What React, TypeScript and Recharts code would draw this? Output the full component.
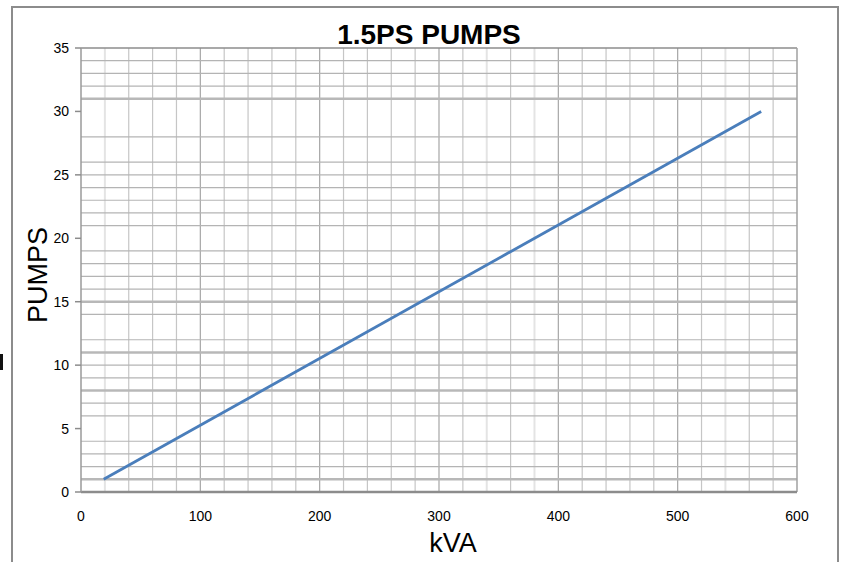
import React from 'react';
import { LineChart, Line, XAxis, YAxis, ReferenceLine, Label } from 'recharts';

// Data: the series runs straight from (19 kVA, 1 pump) to (570 kVA, 30 pumps)
const kvaValues = [19, 570];
const pumpValues = [1, 30];

const xTicks = [0, 100, 200, 300, 400, 500, 600];
const yTicks = [0, 5, 10, 15, 20, 25, 30, 35];

// Graph-paper grid lines as seen in the picture
const xGridValues = [20, 40, 60, 80, 100, 120, 140, 160, 180, 200, 220, 240, 260, 280, 300, 320, 340, 360, 380, 400, 420, 440, 460, 480, 500, 520, 540, 560, 580];
const xGridMajor = [100, 200, 300, 400, 500];
const xGridLight = [20, 340, 380, 540];
const yGridValues = [1, 2, 3, 4, 6, 7, 8, 9, 10, 11, 12, 14, 15, 16, 17, 18, 19, 21, 22, 23, 24, 25, 26, 28, 31, 32, 33, 34];
const yGridHeavy = [1, 8, 11, 15, 31];

const title = '1.5PS PUMPS';
const xLabel = 'kVA';
const yLabel = 'PUMPS';

const data = kvaValues.map((k, i) => ({ kva: k, pumps: pumpValues[i] }));

const FONT = '"Liberation Sans", Arial, sans-serif';

export default function App() {
  return (
    <div style={{ position: 'absolute', left: 0, top: 0, width: 846, height: 562, background: '#fff', overflow: 'hidden', fontFamily: FONT }}>
      {/* outer frame */}
      <div style={{ position: 'absolute', left: 11, top: 6, width: 824, height: 620, borderLeft: '2px solid #8c8c8c', borderTop: '2px solid #8c8c8c', borderRight: '2px solid #8c8c8c' }} />
      <div style={{ position: 'absolute', left: 0, top: 354, width: 3, height: 16, background: '#111' }} />
      <div style={{ position: 'absolute', left: 0, top: 19, width: 858, textAlign: 'center', fontWeight: 'bold', fontSize: 28, color: '#000', fontFamily: FONT }}>{title}</div>
      <div style={{ position: 'absolute', left: 0, top: 0 }}>
        <LineChart width={846} height={562} data={data} margin={{ top: 48, right: 49, bottom: 40, left: 20 }}>
          {xGridValues.map((v) => (
            <ReferenceLine
              key={'x' + v}
              x={v}
              stroke={xGridMajor.includes(v) ? '#a6a6a6' : xGridLight.includes(v) ? '#e4e4e4' : '#c6c6c6'}
              strokeWidth={xGridLight.includes(v) ? 2 : 1.2}
            />
          ))}
          {yGridValues.map((v) => (
            <ReferenceLine
              key={'y' + v}
              y={v}
              stroke={yGridHeavy.includes(v) ? '#b8b8b8' : '#b4b4b4'}
              strokeWidth={yGridHeavy.includes(v) ? 2.5 : 1.2}
            />
          ))}
          <ReferenceLine y={35} stroke="#8c8c8c" strokeWidth={1.5} />
          <ReferenceLine x={600} stroke="#a0a0a0" strokeWidth={1.5} />
          <XAxis
            dataKey="kva"
            type="number"
            domain={[0, 600]}
            ticks={xTicks}
            interval={0}
            height={30}
            tickLine={false}
            tickSize={8}
            tickMargin={11}
            axisLine={{ stroke: '#8c8c8c', strokeWidth: 2.5 }}
            tick={{ fill: '#000', fontSize: 14, fontFamily: FONT }}
          >
            <Label
              content={() => (
                <text x={453} y={552} textAnchor="middle" fontSize={27} fontFamily={FONT} fill="#000">{xLabel}</text>
              )}
            />
          </XAxis>
          <YAxis
            dataKey="pumps"
            type="number"
            domain={[0, 35]}
            ticks={yTicks}
            interval={0}
            width={61}
            tickSize={6}
            tickMargin={6}
            tickLine={{ stroke: '#8c8c8c', strokeWidth: 1.5 }}
            axisLine={{ stroke: '#9a9a9a', strokeWidth: 1.5 }}
            tick={{ fill: '#000', fontSize: 14, fontFamily: FONT }}
          >
            <Label
              content={() => (
                <text x={47} y={275} transform="rotate(-90, 47, 275)" textAnchor="middle" fontSize={27} fontFamily={FONT} fill="#000">{yLabel}</text>
              )}
            />
          </YAxis>
          <Line
            type="linear"
            dataKey="pumps"
            stroke="#4a7ebb"
            strokeWidth={2.8}
            dot={false}
            activeDot={false}
            isAnimationActive={false}
          />
        </LineChart>
      </div>
    </div>
  );
}
